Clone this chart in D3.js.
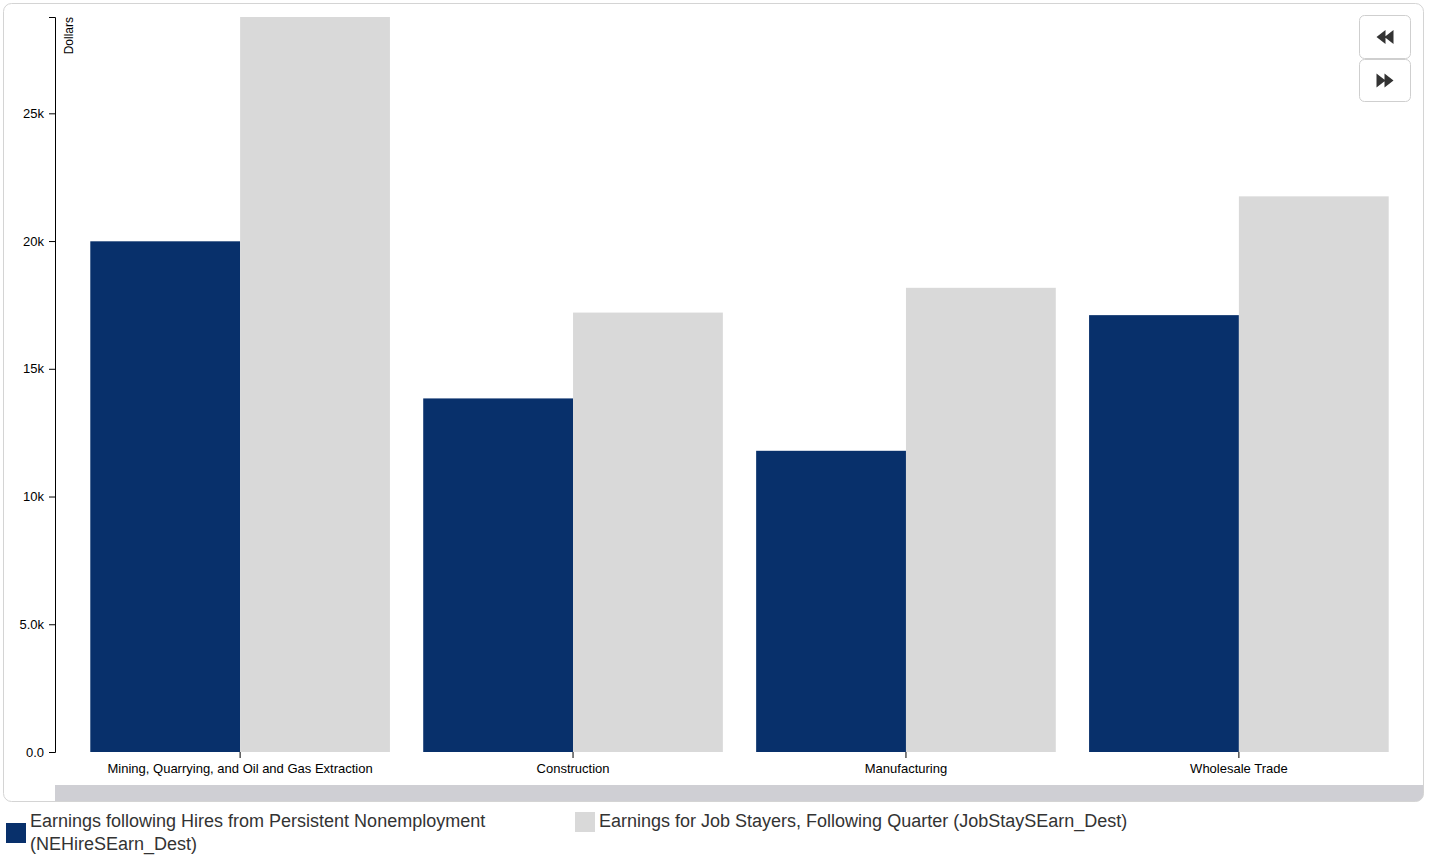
<!DOCTYPE html>
<html>
<head>
<meta charset="utf-8">
<script src="https://cdn.jsdelivr.net/npm/d3@7"></script>
<style>
  body { margin: 0; background: #fff; font-family: "Helvetica Neue", Helvetica, Arial, "Liberation Sans", sans-serif; }
  #chart { position: absolute; left: 0; top: 0; }
  #legend { position: absolute; left: 6px; top: 810px; display: flex; align-items: flex-start; }
  .legend-item { display: flex; align-items: center; font-size: 18px; line-height: 23px; color: #333; }
  .legend-item .swatch { flex: none; width: 20px; height: 20px; margin-right: 4px; }
</style>
</head>
<body>
<svg id="chart" width="1429" height="806"></svg>
<div id="legend"></div>
<script>
// industries along the x axis
var categories = ["Mining, Quarrying, and Oil and Gas Extraction", "Construction", "Manufacturing", "Wholesale Trade"];

// series keys + labels
var seriesKeys = ["NEHireSEarn_Dest", "JobStaySEarn_Dest"];
var seriesLabels = [
    "Earnings following Hires from Persistent Nonemployment (NEHireSEarn_Dest)",
    "Earnings for Job Stayers, Following Quarter (JobStaySEarn_Dest)"
];
var seriesColors = ["#08306b", "#d9d9d9"];

// values (dollars)
var neHireEarn = [19990, 13840, 11790, 17100];
var jobStayEarn = [28770, 17200, 18170, 21750];

var yTicks = [0, 5000, 10000, 15000, 20000, 25000];

var data = categories.map(function(c, i) {
    return { industry: c, NEHireSEarn_Dest: neHireEarn[i], JobStaySEarn_Dest: jobStayEarn[i] };
});

var svg = d3.select("#chart");
var margin = { top: 17, left: 55, bottom: 752, right: 1422 };

// outer panel with rounded corners
svg.append("clipPath").attr("id", "panel-clip")
    .append("rect")
    .attr("x", 3.5).attr("y", 3.5).attr("width", 1420).attr("height", 798).attr("rx", 8);

svg.append("rect")
    .attr("x", 3.5).attr("y", 3.5).attr("width", 1420).attr("height", 798).attr("rx", 8)
    .style("fill", "#fff");

// scroll track at the bottom of the panel
svg.append("rect")
    .attr("clip-path", "url(#panel-clip)")
    .attr("x", margin.left).attr("y", 785).attr("width", 1370).attr("height", 18)
    .style("fill", "#cfcfd4");

svg.append("rect")
    .attr("x", 3.5).attr("y", 3.5).attr("width", 1420).attr("height", 798).attr("rx", 8)
    .style("fill", "none").style("stroke", "#d4d4d4").style("stroke-width", 1);

// scales
var x0 = d3.scaleBand()
    .domain(categories)
    .range([margin.left + 2, margin.right])
    .padding(0.1);

var x1 = d3.scaleBand()
    .domain(seriesKeys)
    .range([0, x0.bandwidth()]);

var y = d3.scaleLinear()
    .domain([0, d3.max(data, function(d) { return d3.max(seriesKeys, function(k) { return d[k]; }); })])
    .range([margin.bottom, margin.top]);

var color = d3.scaleOrdinal().domain(seriesKeys).range(seriesColors);

// bars
svg.append("g")
    .selectAll("g")
    .data(data)
    .join("g")
    .attr("transform", function(d) { return "translate(" + x0(d.industry) + ",0)"; })
    .selectAll("rect")
    .data(function(d) { return seriesKeys.map(function(k) { return { key: k, value: d[k] }; }); })
    .join("rect")
    .attr("x", function(d) { return x1(d.key); })
    .attr("y", function(d) { return y(d.value); })
    .attr("width", x1.bandwidth())
    .attr("height", function(d) { return margin.bottom - y(d.value); })
    .style("fill", function(d) { return color(d.key); });

// x axis (no domain line)
var xAxis = svg.append("g")
    .attr("transform", "translate(0," + margin.bottom + ")")
    .call(d3.axisBottom(x0).tickSize(6).tickPadding(6));
xAxis.select(".domain").remove();
xAxis.selectAll("text").style("font-size", "13px").style("font-family", "inherit").style("fill", "#000");
xAxis.selectAll("line").style("stroke", "#000");

// y axis
var yAxis = svg.append("g")
    .attr("transform", "translate(" + margin.left + ",0)")
    .call(d3.axisLeft(y).tickValues(yTicks).tickFormat(d3.format(".2s")).tickPadding(5));
yAxis.selectAll("text").style("font-size", "13px").style("font-family", "inherit").style("fill", "#000");
yAxis.selectAll("line, path").style("stroke", "#000");

yAxis.append("text")
    .attr("transform", "rotate(-90)")
    .attr("x", -margin.top)
    .attr("y", 18)
    .style("text-anchor", "end")
    .style("font-size", "12px")
    .style("fill", "#000")
    .text("Dollars");

// back / forward buttons
function drawButton(yTop, h, dir) {
    var bx = 1359.5, bw = 51;
    var g = svg.append("g");
    g.append("rect")
        .attr("x", bx).attr("y", yTop).attr("width", bw).attr("height", h).attr("rx", 5)
        .style("fill", "#fff").style("stroke", "#cfcfcf");
    var cx = bx + bw / 2, cy = yTop + h / 2;
    var s = dir; // -1 points left, 1 points right
    var p = d3.path();
    [0, 8].forEach(function(off) {
        var tip = cx + s * (8.5 - off), base = cx + s * (-0.5 - off);
        p.moveTo(tip, cy);
        p.lineTo(base, cy - 7);
        p.lineTo(base, cy + 7);
        p.closePath();
    });
    g.append("path").attr("d", p.toString()).style("fill", "#333");
}
drawButton(15.5, 43, -1);
drawButton(59.5, 42, 1);

// legend
var legend = d3.select("#legend");
var items = legend.selectAll(".legend-item")
    .data(seriesKeys)
    .join("div")
    .attr("class", "legend-item")
    .style("width", function(d, i) { return i === 0 ? "560px" : "700px"; })
    .style("margin-right", function(d, i) { return i === 0 ? "9px" : "0"; });
items.append("div").attr("class", "swatch").style("background", function(d) { return color(d); });
items.append("div").text(function(d, i) { return seriesLabels[i]; });
</script>
</body>
</html>
